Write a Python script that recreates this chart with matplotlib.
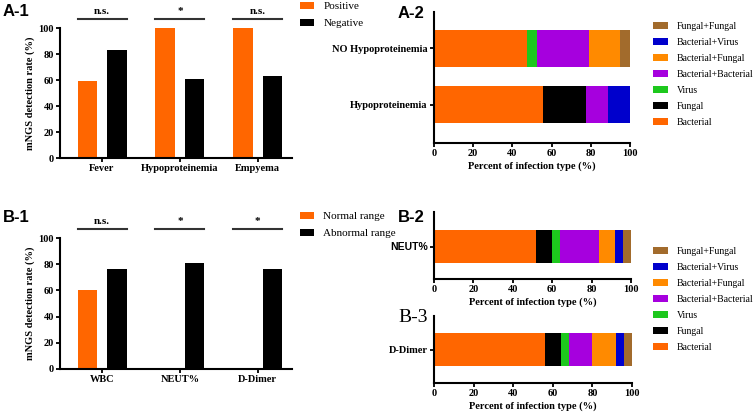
import numpy as np
import matplotlib.pyplot as plt

plt.rcParams['font.family'] = ['Liberation Serif', 'DejaVu Serif']
plt.rcParams['font.weight'] = 'bold'
plt.rcParams['axes.labelweight'] = 'bold'

# ---- data ----
a1_groups = ['Fever', 'Hypoproteinemia', 'Empyema']
a1_pos = [59, 100, 100]
a1_neg = [83, 61, 63]
a1_sig = ['n.s.', '*', 'n.s.']

b1_groups = ['WBC', 'NEUT%', 'D-Dimer']
b1_normal = [60, 0, 0]
b1_abnormal = [76, 81, 76]
b1_sig = ['n.s.', '*', '*']

types = ['Bacterial', 'Fungal', 'Virus', 'Bacterial+Bacterial',
         'Bacterial+Fungal', 'Bacterial+Virus', 'Fungal+Fungal']
type_colors = ['#FF6600', '#000000', '#1DC81D', '#A600DE',
               '#FF8A00', '#0000CC', '#A26B2C']

a2_rows = ['Hypoproteinemia', 'NO Hypoproteinemia']
a2_hypo = [55.6, 22.2, 0, 11.1, 0, 11.1, 0]
a2_no_hypo = [47.4, 0, 5.3, 26.3, 15.8, 0, 5.3]

b2_rows = ['NEUT%']
b2_neut = [52, 8, 4, 20, 8, 4, 4]

b3_rows = ['D-Dimer']
b3_ddimer = [56, 8, 4, 12, 12, 4, 4]

W, H = 753, 420
fig = plt.figure(figsize=(W / 100, H / 100), dpi=100)


def px_axes(l, t, r, b):
    return fig.add_axes([l / W, 1 - b / H, (r - l) / W, (b - t) / H])


def style(ax):
    for s in ['top', 'right']:
        ax.spines[s].set_visible(False)
    for s in ['left', 'bottom']:
        ax.spines[s].set_linewidth(1.5)
    ax.tick_params(width=1.3, length=3, labelsize=7.5, pad=1.5)


def group_bars(ax, groups, v1, v2, sig, labels, leg_top):
    x = np.arange(len(groups))
    b1 = ax.bar(x - 0.19, v1, 0.25, color='#FF6600', label=labels[0])
    b2 = ax.bar(x + 0.19, v2, 0.25, color='black', label=labels[1])
    ax.set_xlim(-0.54, 2.44)
    ax.set_ylim(0, 100)
    ax.set_yticks(range(0, 101, 20))
    ax.set_xticks(x)
    ax.set_xticklabels(groups)
    ax.set_ylabel('mNGS detection rate (%)', fontsize=7.5, labelpad=2)
    style(ax)
    for i, s in enumerate(sig):
        ax.plot([i - 0.315, i + 0.315], [107, 107], color='#333333', lw=1.5,
                clip_on=False)
        ax.text(i, 109.5, s, ha='center', va='bottom', fontsize=8)
    fig.legend(handles=[b1, b2], loc='upper left',
               bbox_to_anchor=(300 / W, 1 - leg_top / H), frameon=False,
               prop={'weight': 'normal', 'size': 8},
               handlelength=1.3, handleheight=0.55, handletextpad=0.8,
               labelspacing=0.68, borderpad=0, borderaxespad=0)


def stacked(ax, rows, series, ylim, leg_top=None):
    y = np.arange(len(rows))
    left = np.zeros(len(rows))
    handles = []
    for k, name in enumerate(types):
        vals = np.array([s[k] for s in series])
        h = ax.barh(y, vals, 0.66, left=left, color=type_colors[k], label=name)
        handles.append(h)
        left += vals
    ax.set_xlim(0, 100)
    ax.set_ylim(*ylim)
    ax.set_yticks(y)
    ax.set_yticklabels(rows)
    ax.set_xticks(range(0, 101, 20))
    ax.set_xlabel('Percent of infection type (%)', fontsize=7.5, labelpad=2)
    style(ax)
    if leg_top is not None:
        fig.legend(handles=handles[::-1], loc='upper left',
                   bbox_to_anchor=(653 / W, 1 - leg_top / H), frameon=False,
                   prop={'weight': 'normal', 'size': 7},
                   handlelength=1.55, handleheight=0.6, handletextpad=0.9,
                   labelspacing=0.72, borderpad=0, borderaxespad=0)


# A-1
ax = px_axes(60, 28, 292, 158)
group_bars(ax, a1_groups, a1_pos, a1_neg, a1_sig, ['Positive', 'Negative'], 2)

# B-1
ax = px_axes(60, 238, 292, 369)
group_bars(ax, b1_groups, b1_normal, b1_abnormal, b1_sig,
           ['Normal range', 'Abnormal range'], 212)

# A-2
ax = px_axes(434, 12, 630, 143)
stacked(ax, a2_rows, [a2_hypo, a2_no_hypo], (-0.68, 1.64), leg_top=22)

# B-2
ax = px_axes(434, 212, 631, 279)
stacked(ax, b2_rows, [b2_neut], (-0.65, 0.69), leg_top=247)
for t in ax.get_yticklabels():
    t.set_fontfamily(['Liberation Sans', 'DejaVu Sans'])

# B-3
ax = px_axes(434, 316, 632, 383)
stacked(ax, b3_rows, [b3_ddimer], (-0.67, 0.67))

# panel labels
sans = ['Liberation Sans', 'DejaVu Sans']
fig.text(3 / W, 1 - 12 / H, 'A-1', family=sans, fontsize=12, va='center')
fig.text(398 / W, 1 - 14 / H, 'A-2', family=sans, fontsize=12, va='center')
fig.text(3 / W, 1 - 217 / H, 'B-1', family=sans, fontsize=12, va='center')
fig.text(398 / W, 1 - 217 / H, 'B-2', family=sans, fontsize=12, va='center')
fig.text(398 / W, 1 - 318 / H, 'B-3', fontsize=14, weight='normal',
         va='center')

fig.savefig('out.png', dpi=100)
